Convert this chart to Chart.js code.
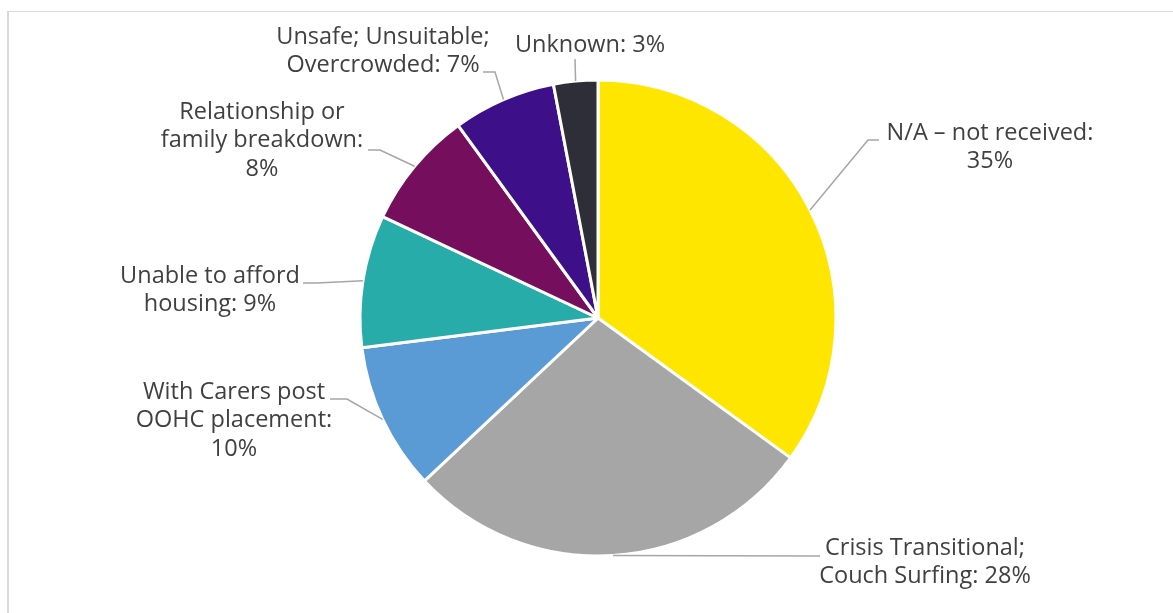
<!DOCTYPE html>
<html><head><meta charset="utf-8">
<script src="https://cdn.jsdelivr.net/npm/chart.js@4/dist/chart.umd.min.js"></script>
<style>
html,body{margin:0;padding:0;background:#fff;}
#wrap{position:relative;width:1173px;height:613px;overflow:hidden;}
#frame{position:absolute;left:7px;top:11px;width:1300px;height:700px;border-left:2px solid #d9d9d9;border-top:1px solid #d9d9d9;}
canvas{position:absolute;left:0;top:0;}
</style></head><body>
<div id="wrap"><div id="frame"></div><canvas id="c" width="1173" height="613"></canvas></div>
<script>
// Reasons for housing situation, share of responses (%)
const categories = [
  'N/A – not received',
  'Crisis Transitional;\nCouch Surfing',
  'With Carers post\nOOHC placement',
  'Unable to afford\nhousing',
  'Relationship or\nfamily breakdown',
  'Unsafe; Unsuitable;\nOvercrowded',
  'Unknown'
];
const shares = [35, 28, 10, 9, 8, 7, 3];
const sliceColors = ['#FFE600', '#A6A6A6', '#5B9BD5', '#27ACAA', '#750E5C', '#3D108A', '#2E2E38'];

// Callout placement: text centre / first line centre, leader bend and end points
const labelLayout = [
  { tx: 990, ty: 133, valueBreak: true,  bend: [868, 140], end: [879, 140] },
  { tx: 925, ty: 548, valueBreak: false, bend: null,       end: [820, 556] },
  { tx: 234, ty: 392, valueBreak: true,  bend: [347, 399], end: [330, 399] },
  { tx: 210, ty: 276, valueBreak: false, bend: [317, 283], end: [303, 283] },
  { tx: 262, ty: 112, valueBreak: true,  bend: [380, 150], end: [368, 150] },
  { tx: 383, ty: 37,  valueBreak: false, bend: [495, 72],  end: [483, 72] },
  { tx: 590, ty: 45,  valueBreak: false, bend: null,       end: [575, 59] }
];

const LABEL_FONT = '23.5px "Open Sans"';
const LINE_H = 28.7;

const calloutLabels = {
  id: 'calloutLabels',
  afterDatasetsDraw(chart) {
    const ctx = chart.ctx;
    const arcs = chart.getDatasetMeta(0).data;
    ctx.save();
    arcs.forEach((arc, i) => {
      const { x, y, startAngle, endAngle, outerRadius } =
        arc.getProps(['x', 'y', 'startAngle', 'endAngle', 'outerRadius'], true);
      const mid = (startAngle + endAngle) / 2;
      const ax = x + Math.cos(mid) * outerRadius;
      const ay = y + Math.sin(mid) * outerRadius;
      const L = labelLayout[i];

      ctx.beginPath();
      ctx.moveTo(ax, ay);
      if (L.bend) ctx.lineTo(L.bend[0], L.bend[1]);
      ctx.lineTo(L.end[0], L.end[1]);
      ctx.strokeStyle = '#A6A6A6';
      ctx.lineWidth = 1.5;
      ctx.stroke();

      const parts = categories[i].split('\n');
      const value = shares[i] + '%';
      const last = parts.pop();
      const lines = L.valueBreak ? [...parts, last + ':', value] : [...parts, last + ': ' + value];
      ctx.font = LABEL_FONT;
      ctx.fillStyle = '#404040';
      ctx.textAlign = 'center';
      ctx.textBaseline = 'middle';
      lines.forEach((t, k) => ctx.fillText(t, L.tx, L.ty + k * LINE_H));
    });
    ctx.restore();
  }
};

new Chart(document.getElementById('c'), {
  type: 'pie',
  data: {
    labels: categories,
    datasets: [{
      data: shares,
      backgroundColor: sliceColors,
      borderColor: '#FFFFFF',
      borderWidth: 3,
      radius: 238
    }]
  },
  options: {
    responsive: false,
    animation: false,
    layout: { padding: { left: 23, top: 23, right: 0, bottom: 0 } },
    plugins: { legend: { display: false }, tooltip: { enabled: false } }
  },
  plugins: [calloutLabels]
});
</script></body></html>
